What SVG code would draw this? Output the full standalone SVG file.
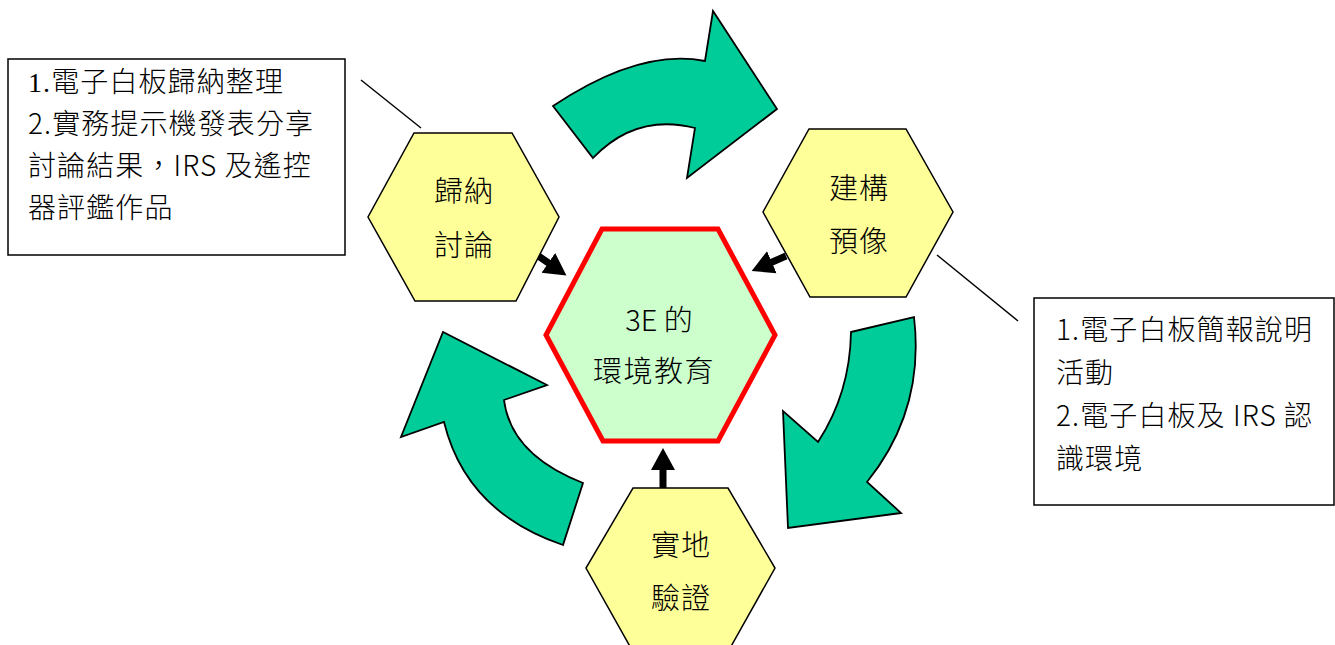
<svg xmlns="http://www.w3.org/2000/svg" width="1335" height="645" viewBox="0 0 1335 645">
<defs>
<style>
.t{font-family:"Noto Sans CJK TC","Noto Sans",sans-serif;font-size:28px;font-weight:300;fill:#000}
.bx{letter-spacing:1.1px}
.c{text-anchor:middle}
.hex{fill:#FFFF99;stroke:#000;stroke-width:1.5}
.box{fill:#fff;stroke:#000;stroke-width:1.5}
.curve{fill:#00CC99;stroke:#000;stroke-width:1.8;stroke-linejoin:miter}
.ln{stroke:#000;stroke-width:1.5;fill:none}
.ar{stroke:#000;stroke-width:7;fill:none}
</style>
<marker id="ah" markerUnits="userSpaceOnUse" markerWidth="24" markerHeight="26" refX="2" refY="12" orient="auto" viewBox="0 0 24 24">
<path d="M0,0 L22,12 L0,24 Z" fill="#000"/>
</marker>
</defs>
<rect width="1335" height="645" fill="#fff"/>
<g id="curved-arrows">
<path class="curve" d="M553,106 Q640,48 705,61 L713,11 L777,109 L687,178 L695,128 Q636,113 593,158 Z"/>
<path class="curve" d="M851,332 L914,317 Q925,410 867,482 L901,513 L788,528 L783,411 L818,442 Q850,393 851,332 Z"/>
<path class="curve" d="M583,483 L563,545 Q466,512 444,422 L401,437 L443,332 L547,385 L504,400 Q511,455 583,483 Z"/>
</g>
<g id="connectors">
<line class="ln" x1="361" y1="80" x2="421" y2="128"/>
<line class="ln" x1="937" y1="255" x2="1018" y2="321"/>
<line class="ar" x1="537" y1="255" x2="550" y2="264" marker-end="url(#ah)"/>
<line class="ar" x1="786" y1="256" x2="770" y2="263" marker-end="url(#ah)"/>
<line class="ar" x1="663" y1="489" x2="663" y2="468" marker-end="url(#ah)"/>
</g>
<g id="center">
<polygon points="602,229 718,229 775,335 718,441 603,441 546,335" fill="#CCFFCC" stroke="#FF0000" stroke-width="5"/>
<text class="t c" x="659" y="331" style="font-size:29px">3E 的</text>
<text class="t c" x="654" y="382" style="font-size:29px;letter-spacing:1.5px">環境教育</text>
</g>
<g id="node-guina">
<polygon class="hex" points="414,133 512,133 559,217 516,301 415,301 368,217"/>
<text class="t c" x="464" y="202" style="font-size:29px;letter-spacing:1px">歸納</text>
<text class="t c" x="464" y="256" style="font-size:29px;letter-spacing:1px">討論</text>
</g>
<g id="node-jiangou">
<polygon class="hex" points="809,129 906,129 953,212 906,297 810,297 763,212"/>
<text class="t c" x="859" y="199" style="font-size:29px;letter-spacing:1px">建構</text>
<text class="t c" x="859" y="252" style="font-size:29px;letter-spacing:1px">預像</text>
</g>
<g id="node-shidi">
<polygon class="hex" points="633,488 728,488 775,568 729,650 632,650 586,568"/>
<text class="t c" x="681" y="556" style="font-size:29px;letter-spacing:1px">實地</text>
<text class="t c" x="681" y="609" style="font-size:29px;letter-spacing:1px">驗證</text>
</g>
<g id="box-left">
<rect class="box" x="8" y="59" width="337" height="196"/>
<text class="t bx" x="28" y="92"><tspan style="font-family:'Liberation Serif',serif">1.</tspan>電子白板歸納整理</text>
<text class="t bx" x="28" y="134">2.實務提示機發表分享</text>
<text class="t bx" x="28" y="176">討論結果，IRS 及遙控</text>
<text class="t bx" x="28" y="218">器評鑑作品</text>
</g>
<g id="box-right">
<rect class="box" x="1034" y="298" width="300" height="207"/>
<text class="t bx" x="1056" y="340">1.電子白板簡報說明</text>
<text class="t bx" x="1056" y="383">活動</text>
<text class="t bx" x="1056" y="426">2.電子白板及 IRS 認</text>
<text class="t bx" x="1056" y="469">識環境</text>
</g>
</svg>
